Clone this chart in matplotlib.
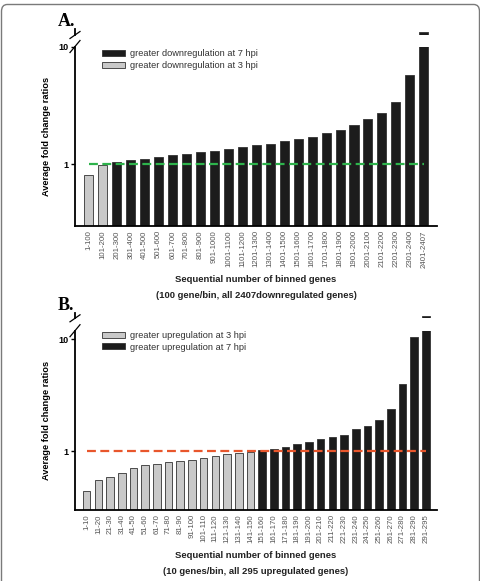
import matplotlib.pyplot as plt
import numpy as np
from matplotlib.lines import Line2D
from matplotlib.patches import Patch, FancyBboxPatch

plt.rcParams['font.family'] = ['Liberation Sans', 'DejaVu Sans']

# panel A data
bins_a = ["1-100", "101-200", "201-300", "301-400", "401-500", "501-600", "601-700",
          "701-800", "801-900", "901-1000", "1001-1100", "1101-1200", "1201-1300",
          "1301-1400", "1401-1500", "1501-1600", "1601-1700", "1701-1800", "1801-1900",
          "1901-2000", "2001-2100", "2101-2200", "2201-2300", "2301-2400", "2401-2407"]
vals_a = [0.81, 0.98, 1.04, 1.09, 1.12, 1.16, 1.20, 1.23, 1.27, 1.31, 1.35, 1.40, 1.45,
          1.49, 1.57, 1.63, 1.72, 1.83, 1.97, 2.15, 2.43, 2.75, 3.36, 5.78, 30]
grp_a = ["3"] * 2 + ["7"] * 23

# panel B data
bins_b = ["1-10", "11-20", "21-30", "31-40", "41-50", "51-60", "61-70", "71-80", "81-90",
          "91-100", "101-110", "111-120", "121-130", "131-140", "141-150", "151-160",
          "161-170", "171-180", "181-190", "191-200", "201-210", "211-220", "221-230",
          "231-240", "241-250", "251-260", "261-270", "271-280", "281-290", "291-295"]
vals_b = [0.44, 0.56, 0.59, 0.645, 0.705, 0.755, 0.775, 0.80, 0.82, 0.84, 0.87, 0.91,
          0.945, 0.965, 0.985, 1.03, 1.055, 1.10, 1.155, 1.22, 1.29, 1.33, 1.41, 1.58,
          1.67, 1.90, 2.37, 3.99, 10.4, 30]
grp_b = ["3"] * 15 + ["7"] * 15

dark = "#1c1c1c"
light = "#c9c9c9"
W, H = 481, 581


def box(l, t, r, b):
    return [l / W, 1 - b / H, (r - l) / W, (b - t) / H]


def panel(main_box, top_box, bins, vals, grp, ytop, line_col, leg_order, leg_labels,
          leg_y, letter, letter_y, note, xlab_y):
    ax = fig.add_axes(main_box)
    axt = fig.add_axes(top_box)
    x = np.arange(len(bins))
    cols = [light if g == "3" else dark for g in grp]
    for a in (ax, axt):
        a.bar(x, vals, width=0.65, color=cols, edgecolor="#333333", linewidth=0.6)
        a.set_xlim(-1.0, len(bins) - 0.05)
        for s in ("top", "right"):
            a.spines[s].set_visible(False)
        a.spines["left"].set_linewidth(1.3)
    ax.set_yscale("log")
    ax.set_ylim(0.3, ytop)
    ax.set_yticks([1, 10])
    ax.set_yticklabels(["1", "10"], fontsize=6.5, fontweight="bold")
    ax.yaxis.set_minor_locator(plt.NullLocator())
    ax.tick_params(axis="y", length=3, width=1, pad=2)
    ax.spines["bottom"].set_linewidth(1.3)
    ax.set_xticks(x)
    ax.set_xticklabels(bins, rotation=90, fontsize=5.6, color="#555555")
    ax.tick_params(axis="x", length=0, pad=3)
    ax.hlines(1, x[0], x[-1], colors=line_col, linestyles=(0, (4, 2)), linewidth=1.6, zorder=3)
    ax.set_ylabel("Average fold change ratios", fontsize=6.7, fontweight="bold", labelpad=5)

    axt.set_ylim(20, 40)
    axt.spines["bottom"].set_visible(False)
    axt.set_xticks([])
    axt.set_yticks([])

    handles = [Patch(facecolor=light if g == "3" else dark, edgecolor="#333333", linewidth=0.6)
               for g in leg_order]
    ax.legend(handles, leg_labels, loc="upper left", bbox_to_anchor=(0.065, leg_y),
              frameon=False, fontsize=6.7, handlelength=2.4, handleheight=0.6,
              labelspacing=0.3, handletextpad=0.6, borderaxespad=0, labelcolor="#333333")

    # break marks on the y axis
    xs = main_box[0]
    ym = main_box[1] + main_box[3]
    yt = top_box[1]
    dx = 5 / W
    fig.add_artist(Line2D([xs - dx, xs + dx], [ym - 6 / H, ym + 6 / H], color="black", lw=0.9))
    fig.add_artist(Line2D([xs - dx, xs + dx], [yt - 3.5 / H, yt + 3.5 / H], color="black", lw=0.9))

    fig.text(xs - 17 / W, letter_y, letter, fontsize=13, fontweight="bold",
             family="Liberation Serif", ha="left", va="center")
    cx = main_box[0] + main_box[2] / 2
    fig.text(cx, xlab_y, "Sequential number of binned genes", fontsize=6.8,
             fontweight="bold", ha="center", va="center", color="#222222")
    fig.text(cx, xlab_y - 15 / H, note, fontsize=6.8, fontweight="bold",
             ha="center", va="center", color="#222222")


fig = plt.figure(figsize=(W / 100, H / 100), dpi=100)

panel(box(75, 46.5, 437, 226), box(75, 29, 437, 35), bins_a, vals_a, grp_a, 10,
      "#2eb34c", ["7", "3"],
      ["greater downregulation at 7 hpi", "greater downregulation at 3 hpi"],
      1.005, "A.", 1 - 22 / H, "(100 gene/bin, all 2407downregulated genes)", 1 - 280 / H)

panel(box(75, 330.7, 437, 510), box(75, 313, 437, 318.3), bins_b, vals_b, grp_b, 11.9,
      "#e8562c", ["3", "7"],
      ["greater upregulation at 3 hpi", "greater upregulation at 7 hpi"],
      1.02, "B.", 1 - 305 / H, "(10 genes/bin, all 295 upregulated genes)", 1 - 556 / H)

fig.add_artist(FancyBboxPatch((1.5 / W, -0.05), 1 - 3 / W, 1.05 - 4.5 / H,
                              boxstyle="round,pad=0,rounding_size=0.012",
                              transform=fig.transFigure, fill=False,
                              edgecolor="#7a7a7a", linewidth=1))

fig.savefig("out.png", dpi=100)
